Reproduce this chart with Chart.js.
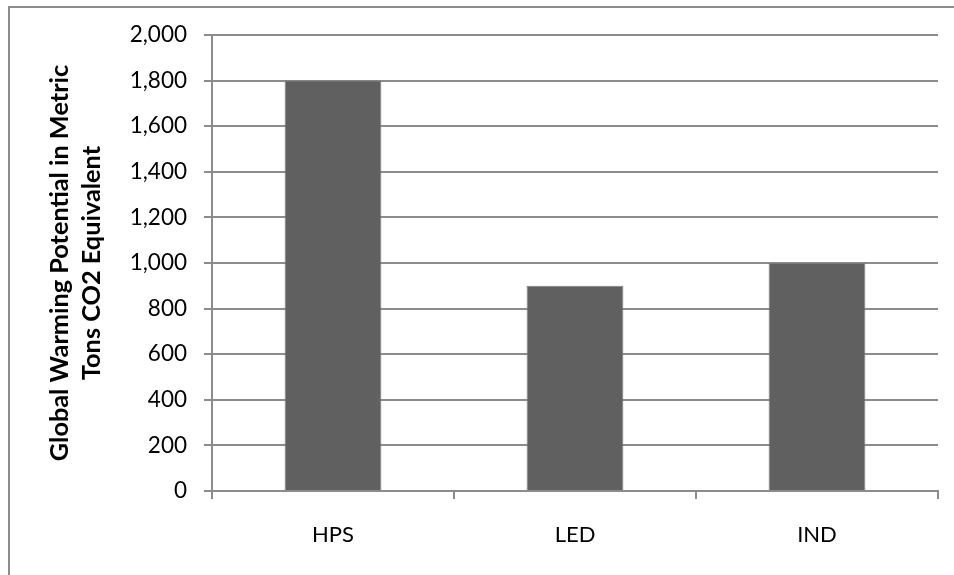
<!DOCTYPE html>
<html>
<head>
<meta charset="utf-8">
<script src="https://cdn.jsdelivr.net/npm/chart.js@4.4.1/dist/chart.umd.min.js"></script>
<style>
  html, body { margin: 0; padding: 0; background: #fff; }
  #wrap { position: relative; width: 954px; height: 575px; }
  canvas { display: block; }
</style>
</head>
<body>
<div id="wrap"><canvas id="c" width="954" height="575"></canvas></div>
<script>
const categories = ["HPS", "LED", "IND"];
const values = [1800, 900, 1000];
const yTitleLines = ["Global Warming Potential in Metric", "Tons CO2 Equivalent"];
const yMin = 0, yMax = 2000, yStep = 200;

const FONT = "Lato, 'Open Sans', sans-serif";
const GRID = '#8c8c8c';

const frame = {
  id: 'frame',
  afterDraw(chart) {
    const ctx = chart.ctx;
    ctx.save();
    ctx.strokeStyle = GRID;
    ctx.lineWidth = 2;
    ctx.beginPath();
    ctx.moveTo(9, 575);
    ctx.lineTo(9, 7);
    ctx.lineTo(954, 7);
    ctx.stroke();
    ctx.restore();
  }
};

new Chart(document.getElementById('c'), {
  type: 'bar',
  data: {
    labels: categories,
    datasets: [{
      data: values,
      backgroundColor: '#606060',
      borderColor: '#7a7a7a',
      borderWidth: 1,
      barPercentage: 0.4,
      categoryPercentage: 1.0
    }]
  },
  options: {
    responsive: false,
    animation: false,
    devicePixelRatio: 1,
    layout: { padding: { left: 0, right: 16, top: 35, bottom: 0 } },
    plugins: { legend: { display: false }, tooltip: { enabled: false } },
    scales: {
      x: {
        afterFit(s) { s.height = 84; },
        grid: { offset: true, drawOnChartArea: false, drawTicks: true, tickLength: 8, color: GRID, lineWidth: 2 },
        border: { display: true, color: GRID, width: 2 },
        ticks: { color: '#000', font: { family: FONT, size: 22 }, padding: 23 }
      },
      y: {
        min: yMin, max: yMax,
        afterFit(s) { s.width = 212; },
        grid: { color: GRID, lineWidth: 2, tickLength: 8 },
        border: { display: true, color: GRID, width: 2 },
        ticks: {
          stepSize: yStep, color: '#000', padding: 17,
          font: { family: FONT, size: 22.5 },
          callback: v => v.toLocaleString('en-US')
        },
        title: {
          display: true,
          text: yTitleLines,
          color: '#000',
          font: { family: FONT, size: 25.3, weight: 'bold', lineHeight: 1.27 },
          padding: { top: 44, bottom: 0 }
        }
      }
    }
  },
  plugins: [frame]
});
</script>
</body>
</html>
